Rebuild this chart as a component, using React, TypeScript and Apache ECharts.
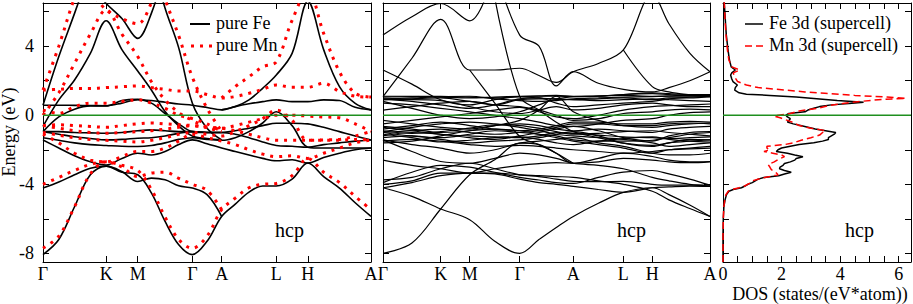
import React, { useEffect, useRef } from 'react';
import * as echarts from 'echarts';

const N = null;
// ---------- k paths ----------
const kPure = [0, 0.167, 0.333, 0.5, 0.667, 0.833, 1.0, 1.144, 1.289, 1.433, 1.577, 1.732, 1.886, 2.03, 2.175, 2.319, 2.463, 2.63, 2.796, 2.963, 3.13, 3.296, 3.463];
const symPure = [0, 0.667, 1.0, 1.577, 1.886, 2.463, 2.796, 3.463];
const kSuper = [0, 0.167, 0.333, 0.5, 0.645, 0.789, 0.9, 1.0, 1.098, 1.243, 1.387, 1.554, 1.65, 1.77, 1.887];
const symSuper = [0, 0.333, 0.5, 0.789, 1.098, 1.387, 1.554, 1.887];
const symNames = ['Γ', 'K', 'M', 'Γ', 'A', 'L', 'H', 'A'];
const energyTicks = [-8, -6, -4, -2, 0, 2, 4, 6];
const energyLabels = [-8, -4, 0, 4];
const dosTicks = [0, 0.5, 1, 1.5, 2, 2.5, 3, 3.5, 4, 4.5, 5, 5.5, 6];
const dosLabels = [0, 2, 4, 6];

// ---------- pure Fe bands (eV) ----------
const fe1 = [-8.07, -7.2, -5.3, -3.45, -2.95, -3.3, -3.45, -4.5, -6.15, -7.5, -8.07, -7.3, -5.86, -5.15, -4.45, -4.1, -4.1, -3.7, -2.77, -3.55, -4.22, -5.07, -5.86];
const fe2 = [-4.22, -3.87, -3.45, -3.07, -2.95, -3.26, -3.84, -3.64, -3.74, -4.09, -4.22, -4.6, -5.86, N, N, N, N, N, N, N, N, N, N];
const fe3 = [-1.43, -1.9, -2.35, -2.7, -2.88, -2.5, -2.2, -2.3, -2.1, -1.7, -1.43, -1.65, -1.9, -2.1, -2.3, -2.5, -2.64, -2.58, -2.77, -2.45, -2.2, -2.0, -1.9];
const fe4 = [-1.3, -1.45, -1.6, -1.7, -1.75, -1.8, -1.81, -1.75, -1.6, -1.4, -1.3, -1.4, -1.45, -1.3, -0.95, -0.45, 0.2, -0.6, -1.85, -1.9, -1.9, -1.9, -1.9];
const fe5 = [-0.95, -1.1, -1.25, -1.35, -1.43, -1.4, -1.33, -1.3, -1.2, -1.05, -0.95, -1.0, -1.0, -0.9, -0.75, -0.6, -0.46, -0.46, -0.5, -0.7, -0.95, -1.2, -1.43];
const fe6 = [-0.95, -0.95, -1.0, -1.02, -1.04, -1.0, -0.9, -0.85, -0.9, -0.95, -0.95, -1.0, -1.0, -1.1, -1.3, -1.55, -1.75, -1.8, -1.85, -1.7, -1.6, -1.5, -1.43];
const fe7 = [-0.65, 0.89, 2.04, 3.58, 5.47, 3.8, 2.56, 1.46, 0.21, -0.62, -1.2, -1.35, -1.43, N, N, N, N, N, N, N, N, N, N];
const fe8 = [0.58, 0.58, 0.57, 0.56, 0.55, 0.7, 0.9, 0.85, 0.75, 0.65, 0.58, 0.45, 0.31, 0.5, 0.66, 0.79, 0.89, 0.79, 0.79, 0.89, 0.85, 0.46, 0.31];
const fe9 = [-0.95, -0.1, 0.35, 0.54, 0.54, 0.85, 0.92, 0.7, 0.1, -0.5, -0.95, -1.0, -1.0, N, N, N, N, N, N, N, N, N, N];
const fe10 = [0.58, 3.4, 5.9, 8.5, N, N, N, N, N, N, N, N, N, N, N, N, N, N, N, N, N, N, N];
const fe11 = [N, N, N, N, N, N, N, 9.0, 6.2, 3.9, 0.7, -0.75, -1.43, N, N, N, N, N, N, N, N, N, N];
const fe12 = [N, N, N, 7.5, 6.47, 5.6, 4.45, 5.9, 8.5, N, N, N, N, N, N, N, N, N, N, N, N, N, N];
const fe13 = [N, N, N, N, N, N, N, N, N, N, N, N, 0.31, 0.5, 0.89, 1.56, 2.33, 3.58, 6.6, 3.8, 1.66, 0.69, 0.31];

// ---------- pure Mn bands (eV) ----------
const mn1 = [-7.7, -7.0, -5.3, -3.4, -2.7, -2.9, -3.2, -4.3, -5.9, -7.2, -7.7, -7.0, -5.47, -4.8, -4.2, -4.0, -3.95, -3.5, -2.5, -3.3, -3.9, -4.7, -5.47];
const mn2 = [-4.0, -3.6, -3.2, -2.85, -2.7, -3.0, -3.55, -3.35, -3.3, -3.65, -4.0, -4.35, -5.47, N, N, N, N, N, N, N, N, N, N];
const mn3 = [-1.1, -1.6, -2.2, -2.6, -2.7, -2.4, -2.1, -2.1, -1.9, -1.5, -1.1, -1.3, -1.5, -1.7, -2.0, -2.25, -2.4, -2.35, -2.5, -2.2, -1.9, -1.6, -1.43];
const mn4 = [-1.0, -1.15, -1.3, -1.4, -1.45, -1.5, -1.55, -1.45, -1.3, -1.1, -1.0, -1.1, -1.2, -0.95, -0.6, -0.2, 0.3, -0.3, -1.45, -1.45, -1.45, -1.4, -1.43];
const mn5 = [-0.6, -0.75, -0.9, -1.0, -1.05, -1.0, -0.95, -0.9, -0.8, -0.7, -0.6, -0.7, -0.75, -0.6, -0.4, -0.2, 0.0, 0.0, -0.05, -0.1, -0.15, -0.5, -0.94];
const mn6 = [-0.6, -0.55, -0.6, -0.65, -0.7, -0.6, -0.5, -0.45, -0.5, -0.55, -0.6, -0.7, -0.75, -0.9, -1.1, -1.3, -1.45, -1.45, -1.45, -1.43, -1.4, -1.2, -0.94];
const mn7 = [0.0, 1.3, 3.0, 4.7, 6.1, 4.7, 3.4, 1.95, 0.89, 0.15, -0.3, -0.7, -0.94, N, N, N, N, N, N, N, N, N, N];
const mn8 = [1.46, 1.5, 1.55, 1.55, 1.6, 1.65, 1.7, 1.6, 1.5, 1.4, 1.4, 1.2, 1.0, 1.08, 1.27, 1.5, 1.75, 1.62, 1.62, 1.85, 1.37, 1.1, 1.05];
const mn9 = [0.3, 0.1, 0.5, 0.7, 0.7, 0.8, 0.9, 0.7, 0.4, 0.0, -0.2, -0.5, -0.94, N, N, N, N, N, N, N, N, N, N];
const mn10 = [1.46, 4.0, 6.8, 9.0, N, N, N, N, N, N, N, N, N, N, N, N, N, N, N, N, N, N, N];
const mn11 = [N, N, N, N, N, N, N, 9.0, 6.7, 4.6, 2.2, 0.4, -0.94, N, N, N, N, N, N, N, N, N, N];
const mn12 = [N, N, N, 7.2, 6.1, 5.6, 5.3, 6.5, 8.5, N, N, N, N, N, N, N, N, N, N, N, N, N, N];
const mn13 = [N, N, N, N, N, N, N, N, N, N, N, N, 1.0, 1.66, 2.23, 2.8, 3.1, 5.5, 7.2, 4.74, 2.52, 1.27, 1.05];

// ---------- supercell bands (eV) ----------
const sc01 = [4.64, 5.7, 6.47, 5.47, 8.5, N, N, N, N, N, N, N, N, N, N];
const sc02 = [1.08, 3.3, 5.55, 2.62, 2.62, 2.72, 2.3, 1.9, 2.52, 3.0, 3.78, 7.0, 5.3, 3.6, 2.52];
const sc03 = [N, N, N, N, 8.5, 4.64, 4.0, 1.7, 2.52, 1.85, 1.5, 1.35, 1.6, 2.0, 2.52];
const sc04 = [N, N, N, N, N, N, N, N, N, N, 3.78, 1.66, 1.35, 1.18, 1.08];
const sc05 = [2.62, 1.8, 0.9, 0.6, 0.9, 1.08, 1.0, 0.95, 1.08, 1.1, 1.2, 1.25, 1.2, 1.15, 1.2];
const sc06 = [N, N, N, 2.62, 0.7, -1.23, -1.7, -2.2, -2.78, N, N, N, N, N, N];
const sc07 = [N, N, N, N, 6.8, 1.08, 0.3, -0.4, -0.95, -1.3, -1.62, -1.75, -1.6, -1.5, -1.43];
const sc08 = [-8.0, -7.4, -5.43, -3.45, -2.58, -1.62, -1.7, -2.2, -2.78, -2.5, -2.2, -2.39, -2.6, -2.7, -2.68];
const sc09 = [-4.2, -4.7, -5.43, -6.05, -7.3, -8.0, -7.2, -6.5, -5.86, -5.1, -4.47, -4.2, -4.6, -5.2, -5.86];
const sc10 = [-3.74, -3.6, -3.1, -2.78, -3.1, -3.45, -3.55, -3.7, -3.83, -3.85, -3.83, -4.0, -4.05, -4.05, -4.03];
const sc11 = [-4.0, -3.8, -3.35, -3.35, -3.4, -3.7, -3.9, -4.0, -4.12, -4.3, -4.47, -4.2, -4.15, -4.1, -4.12];
const sc12 = [-4.2, -3.9, -3.5, -3.35, -3.35, -3.45, -3.5, -3.55, -3.6, -3.8, -4.0, -4.4, -4.9, -5.4, -5.86];
const sc13 = [-1.43, -2.1, -2.68, -2.78, -2.5, -2.2, -2.3, -2.5, -2.78, -2.9, -3.1, -3.6, -3.8, -4.0, -4.1];
const sc14 = [-1.43, -1.7, -1.9, -2.2, -2.0, -1.62, -1.5, -1.4, -1.3, -1.6, -1.8, -2.2, -2.3, -2.3, -2.2];
const sc15 = [-1.3, -1.2, -1.4, -1.6, -1.5, -1.43, -1.3, -1.1, -0.95, -1.2, -1.62, -1.81, -1.6, -1.4, -1.43];
const sc16 = [-1.2, -1.0, -1.1, -1.3, -1.4, -1.2, -1.0, -0.8, -0.65, -0.9, -1.3, -1.5, -1.2, -1.0, -0.95];
const sc17 = [-1.0, -0.9, -0.8, -1.0, -1.1, -1.0, -0.9, -0.7, -0.5, -0.5, -0.6, -0.6, -0.5, -0.45, -0.5];
const sc18 = [-0.8, -0.6, -0.4, -0.6, -0.8, -0.9, -0.8, -0.6, -0.4, -0.4, -0.5, -0.5, -0.4, -0.35, -0.4];
const sc19 = [-0.65, -0.8, -1.0, -0.9, -0.6, -0.3, 0.3, 1.1, 0.2, -0.3, -0.6, -0.7, -0.6, -0.5, -0.45];
const sc20 = [0.3, 0.5, 0.7, 0.8, 0.6, 0.5, 0.3, 0.0, -0.3, -0.2, 0.1, 0.2, 0.3, 0.35, 0.31];
const sc21 = [0.9, 0.9, 0.85, 0.5, 0.2, 0.1, 0.3, 0.5, 0.31, 0.4, 0.6, 0.7, 0.6, 0.5, 0.5];
const sc22 = [0.9, 0.95, 1.0, 0.8, 0.6, 0.9, 0.95, 0.95, 0.9, 0.95, 1.0, 0.9, 1.0, 1.0, 1.08];
const sc23 = [1.05, 1.08, 1.1, 1.05, 1.0, 1.08, 1.1, 1.1, 1.08, 1.1, 1.2, 1.3, 1.25, 1.2, 1.2];
const sc24 = [0.7, 0.6, 0.4, 0.2, 0.0, -0.2, -0.4, -0.6, -0.65, -0.5, -0.3, -0.2, 0.0, 0.15, 0.2];
const sc25 = [0.8, 0.4, 0.0, -0.2, -0.1, 0.2, 0.6, 0.9, 0.9, 0.85, 0.9, 0.95, 0.9, 0.85, 0.8];
const sc26 = [-1.0, -1.2, -1.3, -1.1, -0.9, -1.0, -1.1, -1.2, -1.43, -1.5, -1.5, -1.45, -1.3, -1.1, -1.0];
const sc27 = [-0.95, -0.7, -0.5, -0.4, -0.5, -0.7, -0.9, -1.1, -1.2, -1.3, -1.4, -1.6, -1.8, -1.7, -1.6];
const sc28 = [-1.6, -1.5, -1.2, -0.9, -0.8, -0.9, -1.1, -1.3, -1.5, -1.7, -1.9, -2.2, -2.0, -1.9, -1.8];
const sc29 = [0.95, 0.8, 0.6, 0.4, 0.6, 0.95, 1.0, 0.7, 0.5, 0.6, 0.7, 0.8, 0.95, 1.05, 1.08];
const sc30 = [1.1, 1.1, 1.05, 1.0, 1.05, 1.1, 1.12, 1.15, 1.1, 1.12, 1.15, 1.1, 1.12, 1.15, 1.15];
const sc31 = [0.95, 1.0, 1.08, 1.1, 0.95, 0.85, 0.8, 0.85, 0.95, 1.0, 1.05, 1.08, 1.1, 1.1, 1.12];
const sc32 = [-0.5, -0.3, -0.1, 0.1, 0.3, 0.45, 0.2, -0.1, -0.2, 0.0, 0.3, 0.5, 0.55, 0.6, 0.65];
const sc33 = [-0.3, -0.5, -0.7, -0.8, -0.6, -0.5, -0.6, -0.8, -0.9, -0.8, -0.9, -1.0, -0.8, -0.7, -0.65];
const sc34 = [-0.7, -0.9, -1.1, -1.2, -1.25, -1.3, -1.2, -1.0, -1.05, -1.15, -1.25, -1.3, -1.35, -1.3, -1.25];
const sc35 = [-1.5, -1.4, -1.5, -1.7, -1.8, -1.75, -1.8, -1.9, -2.0, -2.1, -2.2, -2.1, -2.0, -1.95, -1.9];
const sc36 = [-1.1, -1.3, -1.55, -1.45, -1.3, -1.25, -1.4, -1.6, -1.7, -1.5, -1.35, -1.25, -1.4, -1.5, -1.55];
const sc37 = [-0.9, -1.05, -0.95, -0.75, -0.55, -0.6, -0.75, -0.95, -1.1, -1.05, -0.95, -0.9, -1.0, -1.1, -1.2];
const sc38 = [-3.9, -3.3, -2.9, -3.0, -3.3, -3.6, -3.75, -3.9, -3.95, -3.6, -3.3, -3.2, -3.4, -3.7, -4.05];
const sc39 = [-2.6, -2.9, -3.1, -3.35, -3.1, -2.9, -2.8, -2.75, -2.78, -2.7, -2.5, -2.6, -2.7, -2.75, -2.7];

// ---------- DOS ----------
const dosFeE = [6.6, 5.5, 4.7, 3.8, 3.2, 2.8, 2.62, 2.45, 2.33, 2.1, 1.95, 1.75, 1.6, 1.45, 1.3, 1.22, 1.15, 1.05, 0.95, 0.85, 0.75, 0.68, 0.6, 0.5, 0.4, 0.3, 0.2, 0.1, 0.0, -0.1, -0.2, -0.3, -0.4, -0.5, -0.6, -0.7, -0.8, -0.9, -1.0, -1.1, -1.2, -1.3, -1.4, -1.5, -1.6, -1.7, -1.8, -1.9, -2.0, -2.1, -2.2, -2.3, -2.4, -2.5, -2.6, -2.7, -2.8, -2.9, -3.0, -3.1, -3.2, -3.3, -3.4, -3.5, -3.6, -3.7, -3.8, -3.9, -4.0, -4.1, -4.2, -4.3, -4.4, -4.6, -4.9, -5.3, -6.0, -7.0, -8.5];
const dosFe = [0.04, 0.08, 0.11, 0.17, 0.22, 0.28, 0.42, 0.3, 0.26, 0.3, 0.34, 0.49, 0.42, 0.4, 0.55, 0.8, 1.6, 2.5, 3.2, 3.9, 4.8, 4.3, 3.7, 3.3, 3.1, 2.9, 2.8, 2.25, 2.15, 2.2, 2.3, 2.25, 2.2, 2.4, 2.65, 2.9, 3.15, 3.5, 3.85, 3.8, 3.7, 3.6, 3.6, 3.4, 3.1, 2.6, 2.3, 2.0, 1.88, 1.82, 2.2, 2.45, 2.73, 2.5, 2.45, 2.3, 2.1, 2.05, 1.95, 1.93, 2.1, 2.33, 2.1, 1.9, 1.4, 1.2, 1.1, 1.0, 0.85, 0.75, 0.63, 0.35, 0.2, 0.12, 0.07, 0.03, 0.01, 0.0, 0.0];
const dosMnE = [6.6, 5.5, 4.7, 3.8, 3.2, 2.8, 2.62, 2.45, 2.2, 1.95, 1.75, 1.6, 1.46, 1.35, 1.27, 1.15, 1.05, 0.98, 0.9, 0.8, 0.69, 0.55, 0.4, 0.25, 0.1, 0.0, -0.05, -0.15, -0.3, -0.45, -0.6, -0.75, -0.89, -1.0, -1.15, -1.3, -1.45, -1.6, -1.7, -1.8, -1.9, -2.0, -2.1, -2.2, -2.3, -2.4, -2.55, -2.7, -2.85, -3.0, -3.15, -3.3, -3.45, -3.55, -3.65, -3.8, -3.95, -4.1, -4.2, -4.3, -4.4, -4.6, -4.9, -5.3, -6.0, -7.0, -8.5];
const dosMn = [0.04, 0.07, 0.1, 0.15, 0.2, 0.3, 0.57, 0.35, 0.4, 0.5, 0.8, 1.2, 2.1, 2.8, 3.47, 4.5, 5.6, 6.25, 5.3, 4.7, 4.15, 3.6, 3.24, 2.6, 2.3, 1.9, 1.75, 1.95, 2.2, 2.45, 2.6, 3.0, 3.5, 3.4, 3.3, 3.0, 2.67, 2.4, 2.1, 1.5, 1.5, 1.6, 1.4, 1.7, 2.0, 2.1, 1.9, 1.75, 1.54, 1.6, 1.65, 1.8, 1.88, 1.6, 1.3, 1.0, 0.9, 0.74, 0.55, 0.3, 0.18, 0.1, 0.06, 0.03, 0.01, 0.0, 0.0];

const feBands = [fe1, fe2, fe3, fe4, fe5, fe6, fe7, fe8, fe9, fe10, fe11, fe12, fe13];
const mnBands = [mn1, mn2, mn3, mn4, mn5, mn6, mn7, mn8, mn9, mn10, mn11, mn12, mn13];
const scBands = [sc01, sc02, sc03, sc04, sc05, sc06, sc07, sc08, sc09, sc10, sc11, sc12, sc13, sc14, sc15, sc16, sc17, sc18, sc19, sc20, sc21, sc22, sc23, sc24, sc25, sc26, sc27, sc28, sc29, sc30, sc31, sc32, sc33, sc34, sc35, sc36, sc37, sc38, sc39];

const FONT = 'Liberation Serif';
const E_MIN = -8.5;
const E_MAX = 6.5;
const DOS_MAX = 6.42;
const GREEN = '#1f8f1f';

function symFormatter(pos: number[]) {
  return (v: number) => {
    const i = pos.findIndex((p) => Math.abs(p - v) < 1e-6);
    return i >= 0 ? symNames[i] : '';
  };
}

function makeX(grid: number, max: number, ticks: number[], labels: number[] | null, fmt: any, top: boolean) {
  return {
    gridIndex: grid,
    type: 'value',
    min: 0,
    max,
    position: top ? 'top' : 'bottom',
    axisLine: { show: true, onZero: false, lineStyle: { color: '#000', width: 1 } },
    axisTick: { show: true, inside: true, length: 6, customValues: ticks, lineStyle: { color: '#000', width: 1 } },
    axisLabel: top
      ? { show: false }
      : { show: true, customValues: labels, formatter: fmt, fontFamily: FONT, fontSize: 18, lineHeight: 18, color: '#000', margin: 3, showMinLabel: true, showMaxLabel: true },
    splitLine: { show: false },
  };
}

function makeY(grid: number, right: boolean, labelled: boolean) {
  return {
    gridIndex: grid,
    type: 'value',
    min: E_MIN,
    max: E_MAX,
    position: right ? 'right' : 'left',
    axisLine: { show: true, onZero: false, lineStyle: { color: '#000', width: 1 } },
    axisTick: { show: true, inside: true, length: 6, customValues: energyTicks, lineStyle: { color: '#000', width: 1 } },
    axisLabel: labelled
      ? { show: true, customValues: energyLabels, formatter: (v: number) => String(v), fontFamily: FONT, fontSize: 18, color: '#000', margin: 9 }
      : { show: false },
    splitLine: { show: false },
  };
}

function bandSeries(k: number[], bands: (number | null)[][], axis: number, lineStyle: any, z: number) {
  return bands.map((b) => ({
    type: 'line',
    xAxisIndex: axis,
    yAxisIndex: axis,
    data: k.map((kk, i) => [kk, b[i] == null ? '-' : b[i]]),
    showSymbol: false,
    symbol: 'none',
    smooth: 0.35,
    connectNulls: false,
    clip: true,
    silent: true,
    lineStyle,
    z,
  }));
}

function zeroLine(axis: number, max: number) {
  return {
    type: 'line',
    xAxisIndex: axis,
    yAxisIndex: axis,
    data: [[0, 0], [max, 0]],
    showSymbol: false,
    symbol: 'none',
    silent: true,
    lineStyle: { color: GREEN, width: 1.3 },
    z: 5,
  };
}

export default function App() {
  const ref = useRef<HTMLDivElement>(null);
  useEffect(() => {
    const chart = echarts.init(ref.current!, undefined, { renderer: 'svg' });
    const kMaxP = kPure[kPure.length - 1];
    const kMaxS = kSuper[kSuper.length - 1];
    const option: any = {
      animation: false,
      grid: [
        { left: 43, top: 3, width: 328, height: 259 },
        { left: 383, top: 3, width: 327, height: 259 },
        { left: 723, top: 3, width: 188, height: 259 },
      ],
      xAxis: [
        makeX(0, kMaxP, symPure, symPure, symFormatter(symPure), false),
        makeX(0, kMaxP, symPure, null, null, true),
        makeX(1, kMaxS, symSuper, symSuper, symFormatter(symSuper), false),
        makeX(1, kMaxS, symSuper, null, null, true),
        makeX(2, DOS_MAX, dosTicks, dosLabels, (v: number) => String(v), false),
        makeX(2, DOS_MAX, dosTicks, null, null, true),
      ],
      yAxis: [
        makeY(0, false, true),
        makeY(0, true, false),
        makeY(1, false, false),
        makeY(1, true, false),
        makeY(2, false, false),
        makeY(2, true, false),
      ],
      series: [
        ...bandSeries(kPure, feBands, 0, { color: '#000', width: 1.6 }, 2),
        ...bandSeries(kPure, mnBands, 0, { color: '#ff0000', width: 3, type: [3, 6] }, 3),
        ...bandSeries(kSuper, scBands, 2, { color: '#000', width: 1.2 }, 2),
        {
          type: 'line', xAxisIndex: 4, yAxisIndex: 4,
          data: dosFe.map((d, i) => [d, dosFeE[i]]),
          showSymbol: false, symbol: 'none', silent: true,
          lineStyle: { color: '#000', width: 1.5 }, z: 2,
        },
        {
          type: 'line', xAxisIndex: 4, yAxisIndex: 4,
          data: dosMn.map((d, i) => [d, dosMnE[i]]),
          showSymbol: false, symbol: 'none', silent: true,
          lineStyle: { color: '#ff0000', width: 1.5, type: [7, 4] }, z: 3,
        },
        zeroLine(0, kMaxP),
        zeroLine(2, kMaxS),
        zeroLine(4, DOS_MAX),
      ],
      graphic: [
        { type: 'text', x: 9, y: 132, rotation: Math.PI / 2, style: { text: 'Energy (eV)', fontFamily: FONT, fontSize: 18, fill: '#000', align: 'center', verticalAlign: 'middle' } },
        { type: 'text', x: 820, y: 293.5, style: { text: 'DOS (states/(eV*atom))', fontFamily: FONT, fontSize: 18, lineHeight: 18, fill: '#000', align: 'center', verticalAlign: 'middle' } },
        { type: 'text', x: 275, y: 230, style: { text: 'hcp', fontFamily: FONT, fontSize: 20, fill: '#000', align: 'left', verticalAlign: 'middle' } },
        { type: 'text', x: 617, y: 230, style: { text: 'hcp', fontFamily: FONT, fontSize: 20, fill: '#000', align: 'left', verticalAlign: 'middle' } },
        { type: 'text', x: 845, y: 230, style: { text: 'hcp', fontFamily: FONT, fontSize: 20, fill: '#000', align: 'left', verticalAlign: 'middle' } },
        { type: 'line', shape: { x1: 190, y1: 24, x2: 210, y2: 24 }, style: { stroke: '#000', lineWidth: 2 } },
        { type: 'text', x: 216, y: 23, style: { text: 'pure Fe', fontFamily: FONT, fontSize: 18, fill: '#000', align: 'left', verticalAlign: 'middle' } },
        { type: 'line', shape: { x1: 191, y1: 46, x2: 213, y2: 46 }, style: { stroke: '#ff0000', lineWidth: 3, lineDash: [3, 6] } },
        { type: 'text', x: 216, y: 45, style: { text: 'pure Mn', fontFamily: FONT, fontSize: 18, fill: '#000', align: 'left', verticalAlign: 'middle' } },
        { type: 'line', shape: { x1: 745, y1: 24, x2: 763, y2: 24 }, style: { stroke: '#000', lineWidth: 1.5 } },
        { type: 'text', x: 769, y: 23, style: { text: 'Fe 3d (supercell)', fontFamily: FONT, fontSize: 18, fill: '#000', align: 'left', verticalAlign: 'middle' } },
        { type: 'line', shape: { x1: 745, y1: 46, x2: 765, y2: 46 }, style: { stroke: '#ff0000', lineWidth: 1.5, lineDash: [7, 4] } },
        { type: 'text', x: 769, y: 45, style: { text: 'Mn 3d (supercell)', fontFamily: FONT, fontSize: 18, fill: '#000', align: 'left', verticalAlign: 'middle' } },
      ],
    };
    chart.setOption(option);
    return () => chart.dispose();
  }, []);
  return <div ref={ref} style={{ position: 'absolute', left: 0, top: 0, width: 913, height: 304 }} />;
}
